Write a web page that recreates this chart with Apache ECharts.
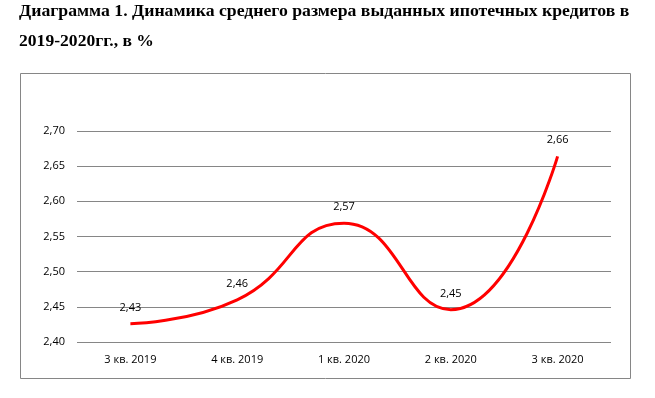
<!DOCTYPE html>
<html><head><meta charset="utf-8">
<script src="https://cdn.jsdelivr.net/npm/echarts@6/dist/echarts.min.js"></script>
<style>html,body{margin:0;padding:0;background:#fff}#c{width:655px;height:398px}</style>
</head><body><div id="c"></div>
<script>
var titleLine1 = "Диаграмма 1. Динамика среднего размера выданных ипотечных кредитов в";
var titleLine2 = "2019-2020гг., в %";
var categories = ["3 кв. 2019", "4 кв. 2019", "1 кв. 2020", "2 кв. 2020", "3 кв. 2020"];
var values = [2.426, 2.46, 2.569, 2.446, 2.664];
var yMin = 2.40, yMax = 2.70, yStep = 0.05;

var chart = echarts.init(document.getElementById('c'), null, {renderer: 'canvas'});
var fmt = function (v) { return Number(v).toFixed(2).replace('.', ','); };
var labelFont = {color: '#000', fontFamily: 'Open Sans', fontSize: 11};
chart.setOption({
  animation: false,
  graphic: [
    {type: 'text', x: 19, y: 4, scaleX: 1.107, style: {text: titleLine1, x: 0, y: 0, verticalAlign: 'top', font: 'bold 16px "Liberation Serif"', fill: '#000'}},
    {type: 'text', x: 19, y: 34, scaleX: 1.1, style: {text: titleLine2, x: 0, y: 0, verticalAlign: 'top', font: 'bold 16px "Liberation Serif"', fill: '#000'}},
    {type: 'rect', shape: {x: 20.5, y: 73.5, width: 610, height: 305}, style: {fill: 'none', stroke: '#868686', lineWidth: 1}}
  ],
  grid: {left: 77, right: 44, top: 131, bottom: 56},
  xAxis: {
    type: 'category', data: categories, boundaryGap: true,
    axisLine: {show: false}, axisTick: {show: false},
    axisLabel: Object.assign({margin: 12}, labelFont)
  },
  yAxis: {
    type: 'value', min: yMin, max: yMax, interval: yStep,
    axisLine: {show: false}, axisTick: {show: false},
    axisLabel: Object.assign({margin: 12, formatter: fmt}, labelFont),
    splitLine: {lineStyle: {color: '#868686', width: 1}}
  },
  series: [{
    type: 'line', data: values, smooth: 0.5, symbol: 'circle', symbolSize: 1, showSymbol: true,
    itemStyle: {color: 'rgba(255,0,0,0)'},
    lineStyle: {color: '#ff0000', width: 3},
    label: Object.assign({show: true, position: 'top', distance: 10, formatter: function (p) { return fmt(p.value); }}, labelFont)
  }]
});
</script></body></html>
